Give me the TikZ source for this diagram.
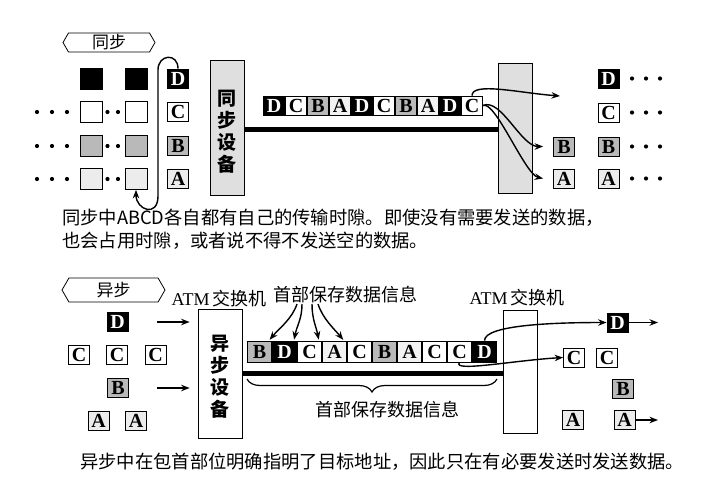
\documentclass[tikz,border=0pt]{standalone}
\usepackage{fontspec}
\setmainfont{Liberation Serif}
\newfontfamily\cjk{Noto Sans CJK SC}
\usetikzlibrary{arrows.meta,shapes.symbols,decorations.pathreplacing,calc}
\begin{document}
\begin{tikzpicture}[x=1pt,y=-1pt,
  lt/.style={draw, line width=0.8pt, minimum width=21pt, minimum height=19pt, inner sep=0pt, font=\fontsize{20}{20}\selectfont\bfseries},
  bk/.style={fill=black, text=white},
  gb/.style={fill=gray!55},
  ga/.style={fill=gray!15},
  wt/.style={fill=white},
  dev/.style={draw, line width=0.8pt, inner sep=0pt},
  vtext/.style={font=\cjk\bfseries\fontsize{19}{22}\selectfont, align=center, inner sep=0pt},
  lab/.style={font=\cjk\fontsize{18}{22}\selectfont, inner sep=0pt},
  captext/.style={font=\cjk\fontsize{18.3}{23}\selectfont, align=left, inner sep=0pt, anchor=west},
  hex/.style={draw, line width=0.8pt, signal, signal to=east and west, signal pointer angle=120, inner sep=0pt, font=\cjk\fontsize{17}{17}\selectfont},
  arr/.style={line width=1.4pt, -{Stealth[length=8.5pt,width=6.5pt]}},
  bus/.style={line width=5pt},
  dotc/.style={fill=black}
]
\useasboundingbox (0,0) rectangle (711,479);

% ---------------- synchronous part ----------------
\node[hex, minimum width=92pt, minimum height=19pt] (hs) at (109,42.5) {同步};

% input boxes
\node[lt,bk, minimum width=22pt, minimum height=21pt] (d1) at (91,78.5) {};
\node[lt,bk, minimum width=22pt, minimum height=21pt] (d2) at (136,78.5) {};
\node[lt,wt, minimum width=22pt, minimum height=21pt] (c1) at (91,112) {};
\node[lt,wt, minimum width=22pt, minimum height=21pt] (c2) at (136,112) {};
\node[lt,gb, minimum width=22pt, minimum height=21pt] (b1) at (91,146) {};
\node[lt,gb, minimum width=22pt, minimum height=21pt] (b2) at (136,146) {};
\node[lt,ga, minimum width=22pt, minimum height=21pt] (a1) at (91,179) {};
\node[lt,ga, minimum width=22pt, minimum height=21pt] (a2) at (136,179) {};
\foreach \y in {112,146,179}{
  \foreach \x in {37,52,67,107.5,118}{\fill[dotc] (\x,\y) circle (2.1);}
}
\node[lt,bk] (ld) at (178,78.5) {D};
\node[lt,wt] (lc) at (178,112) {C};
\node[lt,gb] (lb) at (178,146) {B};
\node[lt,ga] (la) at (178,179) {A};

% loop arrow
\coordinate (loopT) at (158,70);
\coordinate (loopB) at (158,196);
\draw[arr] (ld.north) .. controls +(0,-16) and +(0,-16) .. (loopT) -- (loopB)
  .. controls +(0,22) and +(0,20) .. (a2.south);

% sync device
\node[dev, fill=gray!25, minimum width=34pt, minimum height=135pt] (sdev) at (227,127.5) {};
\node[vtext] (sdevt) at (227,131.5) {同\\步\\设\\备};

% right switch
\node[dev, fill=gray!25, minimum width=34pt, minimum height=130pt] (ssw) at (515,128) {};

% bus
\coordinate (yb1) at (0,129);
\draw[bus] (sdev.east |- yb1) -- (ssw.west |- yb1);

% strip
\foreach \l/\f/\t [count=\i from 0] in {D/black/white,C/white/black,B/gray!55/black,A/gray!10/black,D/black/white,C/white/black,B/gray!55/black,A/gray!10/black,D/black/white,C/white/black}{
  \node[lt, minimum width=21pt, fill=\f, text=\t] (t\i) at (274+22*\i,105.5) {\l};
}

% outputs
\node[lt,gb] (mb) at (564,146.5) {B};
\node[lt,ga] (ma) at (564,178.5) {A};
\node[lt,bk] (od) at (608.5,78.5) {D};
\node[lt,wt] (oc) at (608.5,112.5) {C};
\node[lt,gb] (ob) at (608.5,146.5) {B};
\node[lt,ga] (oa) at (608.5,178.5) {A};
\foreach \y in {78.5,112.5,146.5,178.5}{
  \foreach \x in {632,646,660}{\fill[dotc] (\x,\y) circle (2.1);}
}

\coordinate (dend) at (560,96);
\draw[arr] (t9.north) .. controls +(0,-14) and +(-40,-3) .. (dend);
\draw[arr] (t9.east) .. controls +(18,-8) and +(-22,0) .. ($(mb.west)+(-10,0)$);
\draw[arr] (t9.east) .. controls +(12,-6) and +(-18,-4) .. ($(ma.west)+(-10,0)$);

% caption 1
\node[captext] (cap1) at (62,229.5) {同步中ABCD各自都有自己的传输时隙。即使没有需要发送的数据，\\也会占用时隙，或者说不得不发送空的数据。};

% ---------------- asynchronous part ----------------
\node[hex, minimum width=103pt, minimum height=24pt] (ha) at (113.5,290) {异步};
\node[lab] (atm1) at (219,299) {{\rmfamily ATM}\,交换机};
\node[lab] (atm2) at (517,298) {{\rmfamily ATM}\,交换机};

\node[lt,bk] (ad) at (117.5,322) {D};
\node[lt,wt] (ac1) at (79,354.5) {C};
\node[lt,wt] (ac2) at (117,354.5) {C};
\node[lt,wt] (ac3) at (155.5,354.5) {C};
\node[lt,gb] (ab) at (118,387.5) {B};
\node[lt,ga] (aa1) at (98.5,421) {A};
\node[lt,ga] (aa2) at (136,421) {A};

\node[dev, fill=white, minimum width=44pt, minimum height=129pt] (adev) at (220,373.5) {};
\node[vtext] (adevt) at (220,377) {异\\步\\设\\备};

\node[dev, fill=white, minimum width=34pt, minimum height=123pt] (asw) at (520,371.5) {};

\coordinate (i1) at (157,322);
\coordinate (i2) at (157,388);
\draw[arr, shorten >=8pt] (i1) -- (i1 -| adev.west);
\draw[arr, shorten >=8pt] (i2) -- (i2 -| adev.west);

\coordinate (yb2) at (0,373);
\draw[bus] (adev.east |- yb2) -- (asw.west |- yb2);

\foreach \l/\f/\t [count=\i from 0] in {B/gray!55/black,D/black/white,C/white/black,A/gray!10/black,C/white/black,B/gray!55/black,A/gray!10/black,C/white/black,C/white/black,D/black/white}{
  \node[lt, minimum width=24pt, minimum height=21pt, fill=\f, text=\t] (q\i) at (259.5+25*\i,351.5) {\l};
}

\node[lab] (hdr) at (345,295) {首部保存数据信息};
\draw[arr, shorten >=1pt] ([xshift=-48pt,yshift=-9pt]hdr.center) .. controls +(-5,15) and +(10,-12) .. ([xshift=-3pt]q0.north east);
\draw[arr, shorten >=1pt] ([xshift=-43pt,yshift=-9pt]hdr.center) .. controls +(0,15) and +(3,-15) .. ([xshift=-3pt]q1.north east);
\draw[arr, shorten >=1pt] ([xshift=-33pt,yshift=-9pt]hdr.center) .. controls +(0,15) and +(-3,-15) .. ([xshift=-3pt]q2.north east);
\draw[arr, shorten >=1pt] ([xshift=-27pt,yshift=-9pt]hdr.center) .. controls +(5,15) and +(-10,-12) .. ([xshift=-3pt]q3.north east);

\coordinate (brL) at (247,379);
\coordinate (brR) at (497,379);
\draw[line width=1.2pt, decorate, decoration={brace, mirror, amplitude=13pt}] (brL) -- (brR);
\node[lab] (hdr2) at (387,410) {首部保存数据信息};

\node[lt,bk] (aod) at (617.5,322.5) {D};
\node[lt,wt] (aoc1) at (574,357.5) {C};
\node[lt,wt] (aoc2) at (607,357.5) {C};
\node[lt,gb] (aob) at (623,389) {B};
\node[lt,ga] (aoa1) at (573,420) {A};
\node[lt,ga] (aoa2) at (624.5,420) {A};

\draw[arr] (q9.north) .. controls +(0,-16) and +(-50,0) .. (aod.west);
\draw[arr] (q8.south) .. controls +(-8,10) and +(-50,3) .. (aoc1.west);
\coordinate (o1) at (658,322.5);
\coordinate (o2) at (658,420);
\draw[arr] (aod.east) -- (o1);
\draw[arr] (aoa2.east) -- (o2);

\node[captext] (cap2) at (80,462) {异步中在包首部位明确指明了目标地址，因此只在有必要发送时发送数据。};
\end{tikzpicture}
\end{document}
